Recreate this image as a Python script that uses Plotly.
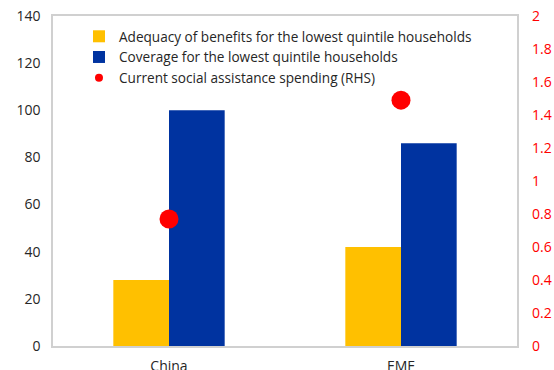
import plotly.graph_objects as go

categories = ["China", "EME"]
adequacy = [28, 42]
coverage = [100, 86]
spending_rhs = [0.77, 1.49]

left_ticks = [0, 20, 40, 60, 80, 100, 120, 140]
right_ticks = [0, 0.2, 0.4, 0.6, 0.8, 1, 1.2, 1.4, 1.6, 1.8, 2]

FONT = "Open Sans"
TEXT = "#262626"

fig = go.Figure()
fig.add_trace(go.Bar(
    x=categories, y=adequacy, name="Adequacy of benefits for the lowest quintile households",
    marker=dict(color="#FFC000", line=dict(width=0)),
))
fig.add_trace(go.Bar(
    x=categories, y=coverage, name="Coverage for the lowest quintile households",
    marker=dict(color="#0033A0", line=dict(width=0)),
))
fig.add_trace(go.Scatter(
    x=categories, y=spending_rhs, name="Current social assistance spending (RHS)",
    mode="markers", yaxis="y2", showlegend=False,
    marker=dict(color="#FF0000", size=19, symbol="circle"),
))
# legend entry for the dots, with a smaller symbol
fig.add_trace(go.Scatter(
    x=[None], y=[None], name="Current social assistance spending (RHS)",
    mode="markers", yaxis="y2",
    marker=dict(color="#FF0000", size=8, symbol="circle"),
))

fig.update_layout(
    width=554, height=370,
    margin=dict(l=53, r=37, t=16, b=24, autoexpand=False),
    paper_bgcolor="white", plot_bgcolor="white",
    font=dict(family=FONT, size=13, color=TEXT),
    barmode="group", bargap=0.52, bargroupgap=0,
    showlegend=True,
    legend=dict(
        x=0.056, y=0.985, xanchor="left", yanchor="top",
        bgcolor="rgba(0,0,0,0)", borderwidth=0,
        font=dict(family=FONT, size=13.6, color=TEXT),
        itemsizing="trace", tracegroupgap=0,
    ),
    xaxis=dict(
        showgrid=False, showline=True, linecolor="#D0D0D0", linewidth=1.5,
        mirror=True, ticks="", tickfont=dict(size=14, color=TEXT),
        automargin=False, ticklabelstandoff=6,
    ),
    yaxis=dict(
        range=[0, 140], tickvals=left_ticks, showgrid=False, zeroline=False,
        showline=True, linecolor="#D0D0D0", linewidth=1.5, mirror=True,
        ticks="", tickfont=dict(size=14, color=TEXT), ticklabelstandoff=8,
        automargin=False,
    ),
    yaxis2=dict(
        range=[0, 2], tickvals=right_ticks, overlaying="y", side="right",
        showgrid=False, zeroline=False, showline=False, ticks="",
        tickfont=dict(size=14, color="#FF0000"), ticklabelstandoff=14,
        automargin=False,
    ),
)

fig.write_html("out.html")
